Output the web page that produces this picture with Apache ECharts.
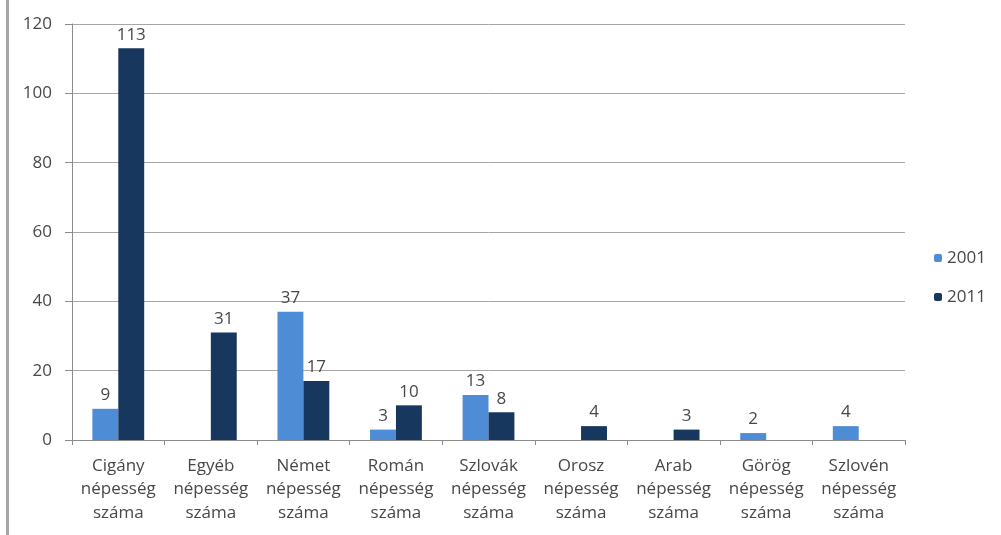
<!DOCTYPE html>
<html><head><meta charset="utf-8">
<script src="https://cdn.jsdelivr.net/npm/echarts@6/dist/echarts.min.js"></script>
<style>html,body{margin:0;padding:0;background:#fff}#c{width:1001px;height:535px}</style>
</head><body><div id="c"></div>
<script>
const categories = ["Cigány\nnépesség\nszáma","Egyéb\nnépesség\nszáma","Német\nnépesség\nszáma","Román\nnépesség\nszáma","Szlovák\nnépesség\nszáma","Orosz\nnépesség\nszáma","Arab\nnépesség\nszáma","Görög\nnépesség\nszáma","Szlovén\nnépesség\nszáma"];
const values2001 = [9, null, 37, 3, 13, null, null, 2, 4];
const values2011 = [113, 31, 17, 10, 8, 4, 3, null, null];
const seriesNames = ["2001","2011"];
const font = "'Open Sans', 'Liberation Sans', sans-serif";
const chart = echarts.init(document.getElementById('c'));
chart.setOption({
  animation:false,
  textStyle:{fontFamily:font},
  graphic:[{type:'rect',shape:{x:6,y:0,width:3,height:535},style:{fill:'#a6a6a6'}}],
  grid:{left:72,right:96,top:24,bottom:95},
  legend:{orient:'vertical',left:929,top:243,itemWidth:8,itemHeight:8,itemGap:19,
    textStyle:{fontSize:17,lineHeight:20,color:'#484848',fontFamily:font},data:seriesNames},
  xAxis:{type:'category',data:categories,
    axisLine:{lineStyle:{color:'#8c8c8c'}},
    axisTick:{show:true,length:5,lineStyle:{color:'#8c8c8c'}},
    axisLabel:{fontSize:17,color:'#484848',lineHeight:23.5,margin:14,interval:0}},
  yAxis:{type:'value',min:0,max:120,interval:20,
    axisLine:{show:true,lineStyle:{color:'#8c8c8c'}},
    axisTick:{show:true,length:7,lineStyle:{color:'#8c8c8c'}},
    splitLine:{lineStyle:{color:'#a6a6a6'}},
    axisLabel:{fontSize:17,color:'#484848',margin:20}},
  series:[
    {name:'2001',type:'bar',data:values2001,barGap:'0%',barCategoryGap:'44%',
     itemStyle:{color:'#4f8cd6'},
     label:{show:true,position:'top',fontSize:17,color:'#484848',distance:5}},
    {name:'2011',type:'bar',data:values2011,barGap:'0%',barCategoryGap:'44%',
     itemStyle:{color:'#17375e'},
     label:{show:true,position:'top',fontSize:17,color:'#484848',distance:5}}
  ]
});
</script></body></html>
